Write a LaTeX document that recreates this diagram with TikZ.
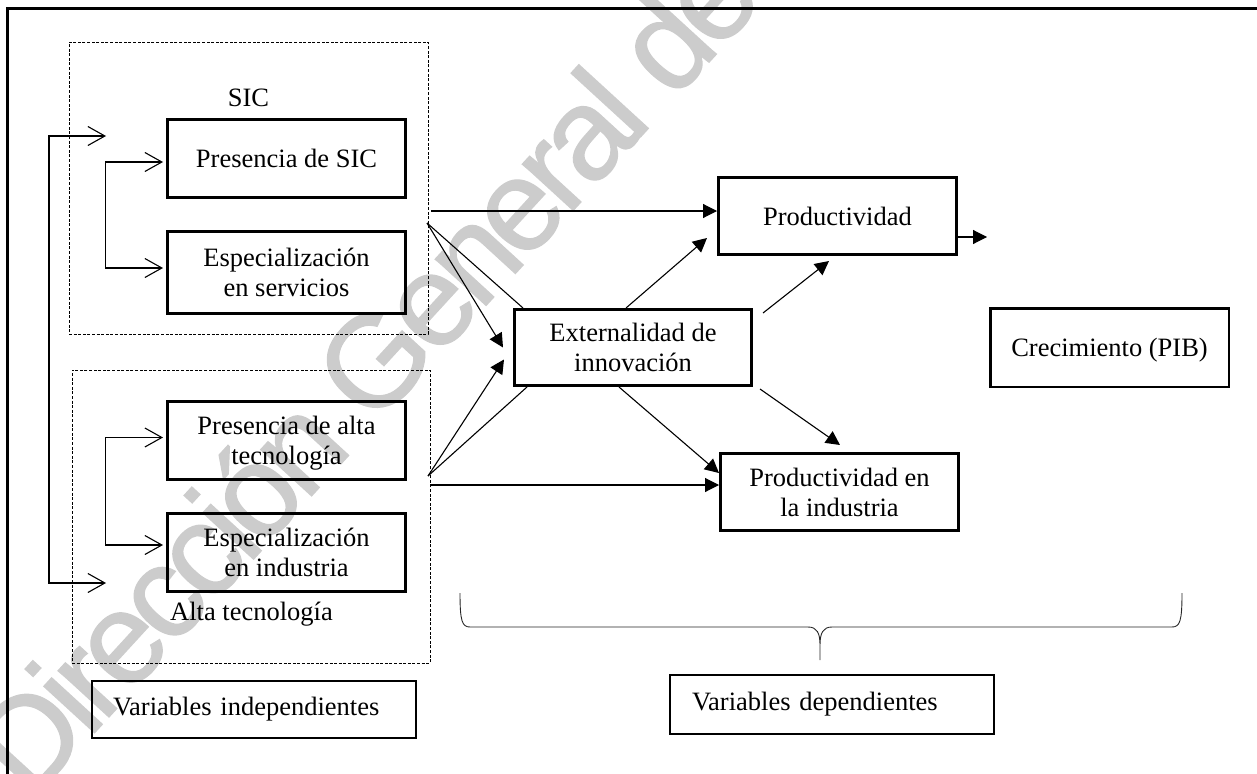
\documentclass[tikz,border=0pt]{standalone}
\usepackage{fontspec}
\setmainfont{Liberation Serif}
\newfontfamily\wmfont[FakeBold=1,LetterSpace=-6]{Liberation Sans}
\usetikzlibrary{arrows.meta,calc}

\begin{document}
\begin{tikzpicture}[x=1pt,y=-1pt,
  txt/.style={font=\fontsize{26.5}{30}\selectfont},
  box/.style={txt,draw,line width=3pt,align=center,inner sep=0pt},
  varbox/.style={txt,draw,line width=2.2pt,align=left,inner xsep=21pt,inner ysep=0pt},
  grp/.style={draw,line width=0.9pt,dash pattern=on 3pt off 1.6pt,inner sep=0pt},
  lbl/.style={txt,inner sep=0pt},
  conn/.style={line width=1.1pt},
  arr/.style={conn,-{Triangle[length=14pt,width=14pt]}},
  barbs/.style={conn,{Straight Barb[length=17pt,width=19pt]}-{Straight Barb[length=17pt,width=19pt]}},
  wm/.style={text=black!20,inner sep=0pt,font=\wmfont\fontsize{130}{135}\selectfont}
]
\useasboundingbox (0,0) rectangle (1257,773);

% watermark behind everything
\begin{scope}
  \clip (0,0) rectangle (1257,773);
  \node[wm,rotate=47.5,anchor=base west] (wmark) at (30.3,802.8) {Dirección General de B};
\end{scope}

% outer frame (open to the right and bottom)
\draw[line width=3pt] (1262,9) -- (7,9) -- (7,778);

% dashed groups
\node[grp,minimum width=359pt,minimum height=292pt] (gsic) at (248.5,188) {};
\node[grp,minimum width=358pt,minimum height=293pt] (galta) at (251,516.5) {};
\node[lbl,anchor=base west] (lsic) at (227.7,106.7) {SIC};
\node[lbl,anchor=base west] (lalta) at (170,620) {Alta tecnología};

% independent variables
\node[box,minimum width=238pt,minimum height=78pt] (sic1) at (286.5,158.5) {Presencia de SIC};
\node[box,minimum width=238pt,minimum height=82pt] (sic2) at (286.5,272.5) {Especialización\\en servicios};
\node[box,minimum width=238pt,minimum height=78pt] (at1) at (286.5,440.5) {Presencia de alta\\tecnolo\smash{g}ía};
\node[box,minimum width=238pt,minimum height=78pt] (at2) at (286.5,552.5) {Especialización\\en industria};

% dependent variables
\node[box,minimum width=237pt,minimum height=76pt] (ext) at (633,347.5) {Externalidad de\\innovación};
\node[box,minimum width=238pt,minimum height=77pt] (prod) at (837.5,216) {Productividad};
\node[box,minimum width=238pt,minimum height=77pt] (pind) at (839.5,492) {Productividad en\\la industria};
\node[box,line width=2.5pt,minimum width=238.5pt,minimum height=78.5pt,text height=18pt,text depth=0pt] (crec) at (1109.5,347.5) {Crecimiento (PIB)};

% captions
\node[varbox,text width=282pt,minimum height=57pt] (vind) at (254,709.5) {Variables independientes};
\node[varbox,inner xsep=22pt,text width=280pt,minimum height=59pt] (vdep) at (832,704.5) {Variables dependientes};

% feedback brackets
\coordinate (obT) at (106,136);
\coordinate (obB) at (106,583);
\draw[barbs] (obT) -- +(-57,0) |- (obB);
\draw[barbs] ($(sic1.west)+(-3,3.5)$) -- +(-57.6,0) |- ($(sic2.west)+(-3,-4.5)$);
\draw[barbs] ($(at1.west)+(-3,-3)$) -- +(-57.6,0) |- ($(at2.west)+(-3,-7.5)$);

% links out of the groups
\coordinate (sicA) at (431,211);
\coordinate (sicB) at (427,223);
\coordinate (atA) at (430,485);
\coordinate (atB) at (428,476);
\draw[arr] (sicA) -- (sicA -| prod.west);
\draw[conn] (sicB) -- ($(ext.north west)+(10,0)$);
\draw[arr] (sicB) -- ($(ext.west)+(-10,0)$);
\draw[arr] (atB) -- ($(ext.west)+(-9,12)$);
\draw[conn] (atB) -- ($(ext.south west)+(14,0)$);
\draw[arr] (atA) -- (atA -| pind.west);

% links out of the externality
\draw[arr] ($(ext.north)+(-7,0)$) -- ($(prod.south west)+(-10,-18)$);
\draw[arr] ($(ext.south)+(-14,0)$) -- ($(pind.west)+(0,-19)$);
\draw[arr] ($(ext.north east)+(10,5)$) -- ($(prod.south west)+(112,5)$);
\draw[arr] ($(ext.south east)+(7,2)$) -- ($(pind.north west)+(121,-7)$);
\draw[arr] ($(prod.east)+(0,21)$) -- +(29,0);

% brace over the dependent variables
\coordinate (brL) at (460,593);
\coordinate (brR) at (1182,593);
\coordinate (brT) at (820,660);
\draw[line width=0.9pt,black!85] (brL) .. controls (460,621) and (462,627) .. (470,627)
  -- (808,627) .. controls (817,627) and (820,633) .. (820,645) -- (brT)
  (820,645) .. controls (820,633) and (823,627) .. (832,627)
  -- (1172,627) .. controls (1180,627) and (1182,621) .. (brR);
\end{tikzpicture}
\end{document}
